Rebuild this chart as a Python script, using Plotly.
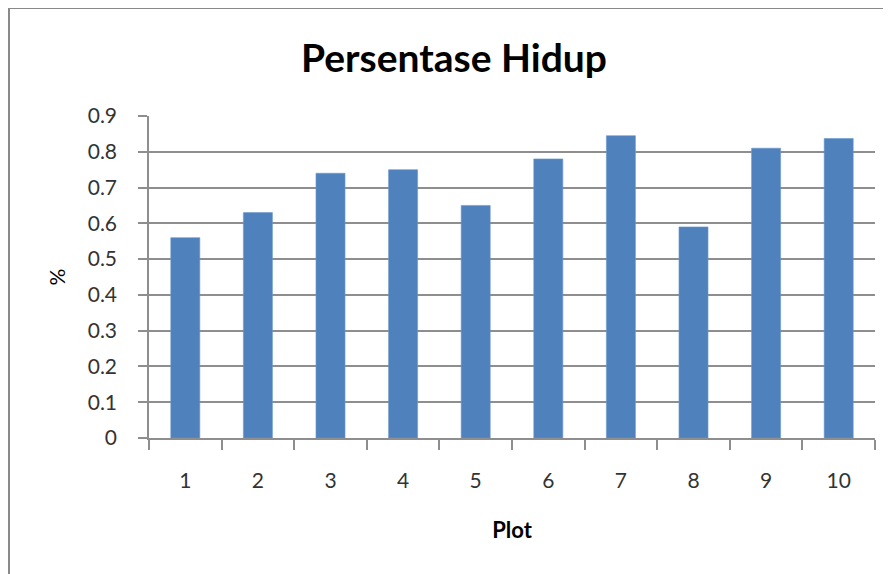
import plotly.graph_objects as go

categories = ["1", "2", "3", "4", "5", "6", "7", "8", "9", "10"]
persentase_hidup = [0.56, 0.63, 0.74, 0.75, 0.65, 0.78, 0.845, 0.59, 0.81, 0.837]
y_ticks = [0, 0.1, 0.2, 0.3, 0.4, 0.5, 0.6, 0.7, 0.8, 0.9]
y_tick_labels = ["0", "0.1", "0.2", "0.3", "0.4", "0.5", "0.6", "0.7", "0.8", "0.9"]

# page body has an 8px margin, so figure coords = window coords - 8
OFF = 8
W, H = 891, 574
L, R, T, B = 149 - OFF, W - (875 - OFF), 116 - OFF, H - (438 - OFF)
pw, ph = W - L - R, H - T - B

def px(x):
    return (x - OFF - L) / pw

def py(y):
    return (H - B - (y - OFF)) / ph

FONT = "Lato, 'Open Sans', sans-serif"
GRID = "#8e8e8e"

fig = go.Figure(go.Bar(
    x=categories, y=persentase_hidup,
    marker=dict(color="#4F81BD", line=dict(color="#6a98cf", width=0.6)),
    width=0.4,
))

fig.update_layout(
    width=W, height=H,
    margin=dict(l=L, r=R, t=T, b=B),
    paper_bgcolor="white", plot_bgcolor="white",
    showlegend=False,
    font=dict(family=FONT, color="#333333", size=21),
    title=dict(text="<b>Persentase Hidup</b>", xref="container", yref="container",
               x=(454 - OFF) / W, xanchor="center", y=1 - (58 - OFF) / H, yanchor="middle",
               font=dict(family=FONT, size=39, color="black")),
    xaxis=dict(type="category", tickson="boundaries", ticks="outside", ticklen=10,
               tickcolor=GRID, tickwidth=1.5, showline=True, linecolor=GRID, linewidth=1.5,
               showgrid=False, ticklabelstandoff=23,
               title=dict(text="<b>Plot</b>", standoff=32,
                          font=dict(family=FONT, size=22, color="black"))),
    yaxis=dict(range=[0, 0.9], tickvals=y_ticks, ticktext=y_tick_labels,
               ticks="outside", ticklen=9, tickcolor=GRID, tickwidth=1.5,
               showline=True, linecolor=GRID, linewidth=1.5,
               showgrid=True, gridcolor=GRID, gridwidth=1.5, zeroline=False,
               ticklabelstandoff=17,
               title=dict(text="%", standoff=16,
                          font=dict(family=FONT, size=21, color="black"))),
    shapes=[dict(type="rect", xref="paper", yref="paper",
                 x0=px(9), x1=px(900), y0=py(590), y1=py(8),
                 line=dict(color="#8a8a8a", width=2), fillcolor="rgba(0,0,0,0)")],
)

fig.write_html("out.html")
